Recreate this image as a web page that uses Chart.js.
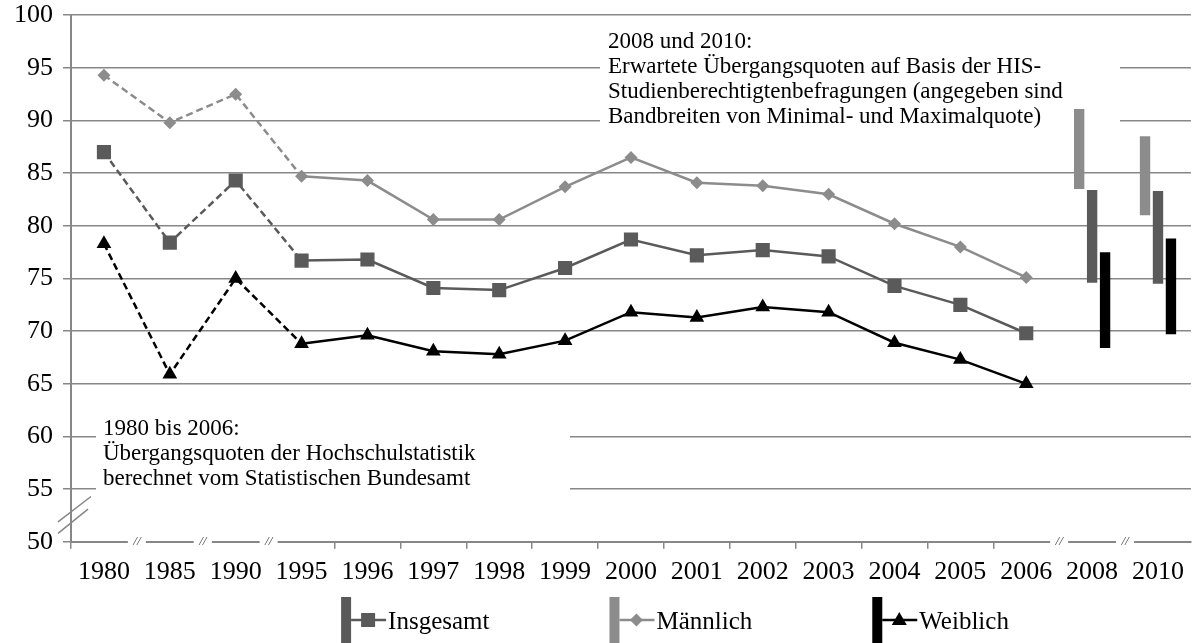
<!DOCTYPE html>
<html>
<head>
<meta charset="utf-8">
<script src="https://cdn.jsdelivr.net/npm/chart.js@4/dist/chart.umd.min.js"></script>
<style>
  html, body { margin: 0; padding: 0; background: #fff; }
  canvas { display: block; }
</style>
</head>
<body>
<canvas id="chart" width="1192" height="643"></canvas>
<script>
// categories (years) - 2008 and 2010 only have HIS bands
const years = ['1980', '1985', '1990', '1995', '1996', '1997', '1998', '1999', '2000', '2001', '2002', '2003', '2004', '2005', '2006', '2008', '2010'];

// Übergangsquoten der Hochschulstatistik (1980-2006)
const insgesamt = [87.0, 78.4, 84.3, 76.7, 76.8, 74.1, 73.9, 76.0, 78.7, 77.2, 77.7, 77.1, 74.3, 72.5, 69.8, null, null];
const maennlich = [94.3, 89.8, 92.5, 84.7, 84.3, 80.6, 80.6, 83.7, 86.5, 84.1, 83.8, 83.0, 80.2, 78.0, 75.1, null, null];
const weiblich  = [78.3, 65.9, 75.0, 68.8, 69.6, 68.1, 67.8, 69.1, 71.8, 71.3, 72.3, 71.8, 68.9, 67.3, 65.0, null, null];

// HIS bands [min, max] for 2008 and 2010
const bandYears = ['2008', '2010'];
const maennlichBand = [[83.5, 91.1], [81.0, 88.5]];
const insgesamtBand = [[74.6, 83.4], [74.5, 83.3]];
const weiblichBand  = [[68.4, 77.5], [69.7, 78.8]];

// y axis
const yMin = 50, yMax = 100, yStep = 5;

// axis breaks: boundaries before these categories are cut
const breakBefore = ['1985', '1990', '1995', '2008', '2010'];
const dashedUntil = '1995';

const noteHis = ['2008 und 2010:', 'Erwartete Übergangsquoten auf Basis der HIS-', 'Studienberechtigtenbefragungen (angegeben sind', 'Bandbreiten von Minimal- und Maximalquote)'];
const noteStat = ['1980 bis 2006:', 'Übergangsquoten der Hochschulstatistik', 'berechnet vom Statistischen Bundesamt'];

const FONT = "'Liberation Serif', 'Times New Roman', serif";
const C_INS = '#5a5a5a', C_MAE = '#8c8c8c', C_WEI = '#000000', C_GRID = '#878787';

const bandData = band => years.map(y => {
  const k = bandYears.indexOf(y);
  return k < 0 ? null : band[k];
});
const dashIdx = years.indexOf(dashedUntil);
const breakIdx = breakBefore.map(y => years.indexOf(y));

function lineSet(label, data, color, style, radius) {
  return {
    type: 'line', label, data, order: 1,
    borderColor: color, backgroundColor: color, borderWidth: 2.5,
    pointStyle: style, pointRadius: radius, pointHoverRadius: radius,
    pointBackgroundColor: color, pointBorderWidth: 0,
    tension: 0, spanGaps: false,
    segment: { borderDash: c => c.p1DataIndex <= dashIdx ? [7, 4] : undefined }
  };
}
function barSet(label, data, color) {
  return {
    type: 'bar', label, data, order: 2, backgroundColor: color, borderWidth: 0,
    barPercentage: 0.8, categoryPercentage: 0.59, skipNull: true
  };
}

function drawMarker(ctx, style, x, y, color) {
  ctx.fillStyle = color;
  ctx.beginPath();
  if (style === 'rect') {
    ctx.rect(x - 7, y - 7, 14, 14);
  } else if (style === 'rectRot') {
    ctx.moveTo(x, y - 6.5); ctx.lineTo(x + 6.5, y); ctx.lineTo(x, y + 6.5); ctx.lineTo(x - 6.5, y);
  } else {
    ctx.moveTo(x, y - 8); ctx.lineTo(x + 7.5, y + 5); ctx.lineTo(x - 7.5, y + 5);
  }
  ctx.closePath();
  ctx.fill();
}

const notesPlugin = {
  id: 'notes',
  beforeDatasetsDraw(chart) {
    const ctx = chart.ctx;
    ctx.save();
    ctx.fillStyle = '#fff';
    ctx.fillRect(600, 26, 520, 112);
    ctx.fillRect(96, 412, 474, 84);
    ctx.fillStyle = '#000';
    ctx.font = '23px ' + FONT;
    ctx.textBaseline = 'alphabetic';
    noteHis.forEach((t, i) => ctx.fillText(t, 608, 48 + i * 25));
    noteStat.forEach((t, i) => ctx.fillText(t, 103, 435 + i * 25));
    ctx.restore();
  }
};

const breaksPlugin = {
  id: 'breaks',
  afterDraw(chart) {
    const ctx = chart.ctx, xs = chart.scales.x, ys = chart.scales.y;
    const bottom = chart.chartArea.bottom, left = chart.chartArea.left;
    ctx.save();
    // x axis breaks
    breakIdx.forEach(i => {
      const x = (xs.getPixelForValue(i - 1) + xs.getPixelForValue(i)) / 2;
      ctx.fillStyle = '#fff';
      ctx.fillRect(x - 9, bottom - 3, 18, 6);
      ctx.fillStyle = '#444';
      ctx.font = 'italic 13px ' + FONT;
      ctx.textAlign = 'center';
      ctx.textBaseline = 'middle';
      ctx.fillText('//', x, bottom);
    });
    // y axis break
    ctx.strokeStyle = C_GRID;
    ctx.lineWidth = 1.5;
    ctx.beginPath();
    ctx.moveTo(left - 13, ys.getPixelForValue(51.9)); ctx.lineTo(left + 20, ys.getPixelForValue(54.3));
    ctx.moveTo(left - 13, ys.getPixelForValue(50.8)); ctx.lineTo(left + 17, ys.getPixelForValue(53.1));
    ctx.stroke();
    ctx.restore();
  }
};

const legendPlugin = {
  id: 'customLegend',
  afterDraw(chart) {
    const ctx = chart.ctx;
    const items = chart.data.datasets.filter(d => d.type === 'line');
    ctx.save();
    ctx.font = '25px ' + FONT;
    const sym = 47, gap = 120;
    const widths = items.map(d => sym + ctx.measureText(d.label).width);
    const total = widths.reduce((a, b) => a + b, 0) + gap * (items.length - 1);
    let x = 675 - total / 2;
    const yMid = 620;
    items.forEach((d, i) => {
      const c = d.borderColor;
      ctx.fillStyle = c;
      ctx.fillRect(x, 597, 10, 46);
      ctx.strokeStyle = c;
      ctx.lineWidth = 2.5;
      ctx.beginPath(); ctx.moveTo(x + 10, yMid); ctx.lineTo(x + 45, yMid); ctx.stroke();
      drawMarker(ctx, d.pointStyle, x + 27, yMid, c);
      ctx.fillStyle = '#000';
      ctx.textBaseline = 'alphabetic';
      ctx.fillText(d.label, x + sym, 629);
      x += widths[i] + gap;
    });
    ctx.restore();
  }
};

new Chart(document.getElementById('chart'), {
  type: 'bar',
  data: {
    labels: years,
    datasets: [
      lineSet('Insgesamt', insgesamt, C_INS, 'rect', 10),
      lineSet('Männlich', maennlich, C_MAE, 'rectRot', 6.5),
      lineSet('Weiblich', weiblich, C_WEI, 'triangle', 8.5),
      barSet('Männlich HIS', bandData(maennlichBand), C_MAE),
      barSet('Insgesamt HIS', bandData(insgesamtBand), C_INS),
      barSet('Weiblich HIS', bandData(weiblichBand), C_WEI)
    ]
  },
  options: {
    responsive: false,
    animation: false,
    layout: { autoPadding: false, padding: { left: 4, right: 0, top: 0, bottom: 47 } },
    plugins: { legend: { display: false }, tooltip: { enabled: false } },
    scales: {
      x: {
        offset: true,
        grid: {
          display: true, drawOnChartArea: false, drawTicks: true, tickLength: 7, lineWidth: 1.5,
          tickColor: c => (c.type !== 'tick' || breakIdx.includes(c.index)) ? 'rgba(0,0,0,0)' : C_GRID
        },
        border: { color: C_GRID, width: 2 },
        ticks: { color: '#000', font: { family: FONT, size: 26 }, padding: 8, maxRotation: 0, autoSkip: false }
      },
      y: {
        min: yMin, max: yMax,
        grid: { color: C_GRID, lineWidth: 1.5, tickLength: 8 },
        border: { color: C_GRID, width: 2 },
        ticks: { stepSize: yStep, color: '#000', font: { family: FONT, size: 26, lineHeight: 0.4 }, padding: 10 }
      }
    }
  },
  plugins: [notesPlugin, breaksPlugin, legendPlugin]
});
</script>
</body>
</html>
